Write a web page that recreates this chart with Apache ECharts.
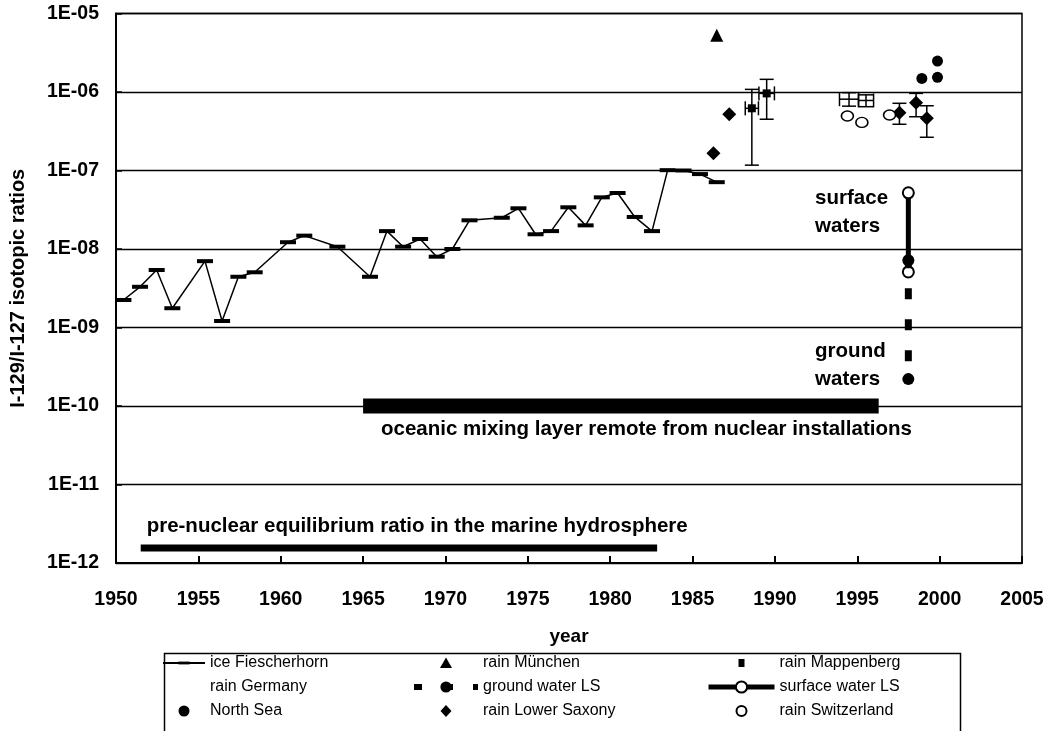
<!DOCTYPE html>
<html>
<head>
<meta charset="utf-8">
<script src="https://cdn.jsdelivr.net/npm/echarts@6/dist/echarts.min.js"></script>
<style>
html,body{margin:0;padding:0;background:#fff;}
#chart{width:1051px;height:731px;}
</style>
</head>
<body>
<div id="chart"></div>
<script>
// ---------- data ----------
const iceYears = [1950.45, 1951.46, 1952.47, 1953.42, 1955.4, 1956.44, 1957.43, 1958.42, 1960.44, 1961.43, 1963.44, 1965.42, 1966.45, 1967.43, 1968.46, 1969.47, 1970.42, 1971.46, 1973.42, 1974.43, 1975.47, 1976.41, 1977.46, 1978.51, 1979.49, 1980.45, 1981.49, 1982.54, 1983.49, 1984.45, 1985.45, 1986.47];
const iceValues = [2.24e-9, 3.3e-9, 5.4e-9, 1.76e-9, 7.0e-9, 1.21e-9, 4.43e-9, 5.05e-9, 1.22e-8, 1.48e-8, 1.07e-8, 4.43e-9, 1.69e-8, 1.07e-8, 1.34e-8, 7.98e-9, 1.0e-8, 2.32e-8, 2.5e-8, 3.3e-8, 1.54e-8, 1.69e-8, 3.4e-8, 2.0e-8, 4.55e-8, 5.17e-8, 2.56e-8, 1.69e-8, 1.01e-7, 1.0e-7, 9.0e-8, 7.1e-8];

const munichYears = [1986.47];
const munichValues = [5.3e-6];

// rain Mappenberg: value with x and y error ranges
const mappYears = [1988.6, 1989.5];
const mappValues = [6.2e-7, 9.6e-7];
const mappXLow = [1988.2, 1989.03];
const mappXHigh = [1989.0, 1989.97];
const mappYLow = [1.17e-7, 4.5e-7];
const mappYHigh = [1.08e-6, 1.45e-6];

// rain Germany: only error bars visible
const gerYears = [1994.5, 1995.53];
const gerValues = [8.1e-7, 7.8e-7];
const gerXLow = [1993.92, 1995.07];
const gerXHigh = [1995.08, 1995.99];
const gerYLow = [6.6e-7, 6.5e-7];
const gerYHigh = [9.8e-7, 9.2e-7];

// rain Lower Saxony
const lsxYears = [1986.27, 1987.23, 1997.56, 1998.57, 1999.22];
const lsxValues = [1.66e-7, 5.2e-7, 5.45e-7, 7.31e-7, 4.62e-7];
const lsxYLow = [null, null, 3.88e-7, 4.84e-7, 2.65e-7];
const lsxYHigh = [null, null, 7.18e-7, 9.6e-7, 6.68e-7];

const swissYears = [1994.4, 1995.28, 1996.96];
const swissValues = [4.94e-7, 4.1e-7, 5.1e-7];

const northSeaYears = [1998.92, 1999.87, 1999.87];
const northSeaValues = [1.49e-6, 1.54e-6, 2.48e-6];

const groundYears = [1998.1, 1998.1];
const groundValues = [7.2e-9, 2.2e-10];

const surfaceYears = [1998.1, 1998.1];
const surfaceValues = [5.2e-8, 5.1e-9];

// reference ranges drawn as bars
const mixingYears = [1965.0, 1996.3];
const mixingValues = [1e-10, 1e-10];
const preNuclearYears = [1951.5, 1982.85];
const preNuclearValues = [1.55e-12, 1.55e-12];

// annotations (anchor in data units)
const noteTexts = ['pre-nuclear equilibrium ratio in the marine hydrosphere', 'oceanic mixing layer remote from nuclear installations', 'surface\nwaters', 'ground\nwaters'];
const noteYears = [1951.86, 1982.2, 1992.44, 1992.44];
const noteValues = [2.9e-12, 4.98e-11, 2.92e-8, 3.28e-10];
const noteAlign = ['left', 'center', 'left', 'left'];

const xTickLabels = ['1950','1955','1960','1965','1970','1975','1980','1985','1990','1995','2000','2005'];
const yTickLabels = ['1E-12','1E-11','1E-10','1E-09','1E-08','1E-07','1E-06','1E-05'];

// ---------- helpers ----------
const zip = (a, b) => a.map((v, i) => [v, b[i]]);
const FONT = "'Liberation Sans', Arial, sans-serif";

function errRender(params, api) {
  const x = api.value(0), y = api.value(1);
  const xlo = api.value(2), xhi = api.value(3), ylo = api.value(4), yhi = api.value(5);
  const cap = 7;
  const st = { stroke: '#000', lineWidth: 1.5 };
  const children = [];
  if (ylo > 0 && yhi > 0) {
    const a = api.coord([x, ylo]), b = api.coord([x, yhi]);
    children.push({ type: 'line', shape: { x1: a[0], y1: a[1], x2: b[0], y2: b[1] }, style: st });
    children.push({ type: 'line', shape: { x1: a[0] - cap, y1: a[1], x2: a[0] + cap, y2: a[1] }, style: st });
    children.push({ type: 'line', shape: { x1: b[0] - cap, y1: b[1], x2: b[0] + cap, y2: b[1] }, style: st });
  }
  if (xlo > 0 && xhi > 0) {
    const a = api.coord([xlo, y]), b = api.coord([xhi, y]);
    children.push({ type: 'line', shape: { x1: a[0], y1: a[1], x2: b[0], y2: b[1] }, style: st });
    children.push({ type: 'line', shape: { x1: a[0], y1: a[1] - cap, x2: a[0], y2: a[1] + cap }, style: st });
    children.push({ type: 'line', shape: { x1: b[0], y1: b[1] - cap, x2: b[0], y2: b[1] + cap }, style: st });
  }
  return { type: 'group', children };
}

const mappErr = mappYears.map((x, i) => [x, mappValues[i], mappXLow[i], mappXHigh[i], mappYLow[i], mappYHigh[i]]);
const gerErr = gerYears.map((x, i) => [x, gerValues[i], gerXLow[i], gerXHigh[i], gerYLow[i], gerYHigh[i]]);
const lsxErr = lsxYears.map((x, i) => [x, lsxValues[i], 0, 0, lsxYLow[i] || 0, lsxYHigh[i] || 0]);

// legend icon paths: a shape centred in a box of the legend item's size
const IH = 14;
function boxed(w, inner) { return 'path://M0,0 M' + w + ',' + IH + ' ' + inner(w / 2, IH / 2); }
const triPath = (cx, cy) => `M${cx},${cy - 5.5} L${cx + 6},${cy + 5} L${cx - 6},${cy + 5} Z`;
const diaPath = (cx, cy) => `M${cx},${cy - 6} L${cx + 5.5},${cy} L${cx},${cy + 6} L${cx - 5.5},${cy} Z`;
const sqPath = (cx, cy) => `M${cx - 3},${cy - 4} L${cx + 3},${cy - 4} L${cx + 3},${cy + 4} L${cx - 3},${cy + 4} Z`;
const circPath = (r) => (cx, cy) => `M${cx + r},${cy} A${r},${r} 0 1,1 ${cx - r},${cy} A${r},${r} 0 1,1 ${cx + r},${cy} Z`;
const dashSym = 'path://M0,0 M16,16 M0,6 L16,6 L16,10 L0,10 Z';

const chart = echarts.init(document.getElementById('chart'), null, { renderer: 'canvas' });

const legendText = { fontFamily: FONT, fontSize: 16, color: '#000' };
const legendCommon = { orient: 'vertical', top: 655, itemHeight: IH, itemGap: 8, textStyle: legendText, selectedMode: false, padding: 0 };
const W1 = 42, W2 = 64, W3 = 66;

const option = {
  animation: false,
  backgroundColor: '#fff',
  grid: { left: 116, right: 29, top: 13.5, bottom: 168, show: true, borderColor: '#000', borderWidth: 1.5, backgroundColor: 'transparent' },
  xAxis: {
    type: 'value', min: 1950, max: 2005, interval: 5,
    name: 'year', nameLocation: 'middle', nameGap: 64,
    nameTextStyle: { fontFamily: FONT, fontWeight: 'bold', fontSize: 19, color: '#000' },
    axisLine: { show: true, lineStyle: { color: '#000', width: 2 } },
    axisTick: { show: true, inside: true, length: 7, lineStyle: { color: '#000', width: 2 } },
    axisLabel: { margin: 27, fontFamily: FONT, fontWeight: 'bold', fontSize: 19.5, color: '#000',
      formatter: (v) => xTickLabels[Math.round((v - 1950) / 5)] },
    splitLine: { show: false }
  },
  yAxis: {
    type: 'log', logBase: 10, min: 1e-12, max: 1e-5,
    name: 'I-129/I-127 isotopic ratios', nameLocation: 'middle', nameRotate: 90, nameGap: 88,
    nameTextStyle: { fontFamily: FONT, fontWeight: 'bold', fontSize: 20, color: '#000' },
    axisLine: { show: true, lineStyle: { color: '#000', width: 2 } },
    axisTick: { show: true, inside: true, length: 6, lineStyle: { color: '#000', width: 1.5 } },
    axisLabel: { margin: 17, fontFamily: FONT, fontWeight: 'bold', fontSize: 19.5, color: '#000',
      formatter: (v) => yTickLabels[Math.round(Math.log10(v)) + 12] },
    splitLine: { show: true, lineStyle: { color: '#000', width: 1.3 } }
  },
  legend: [
    Object.assign({}, legendCommon, { left: 162, itemWidth: W1, data: [
      'ice Fiescherhorn',
      { name: 'rain Germany', icon: 'rect', itemStyle: { color: 'rgba(0,0,0,0)', borderWidth: 0 } },
      { name: 'North Sea', icon: boxed(W1, circPath(5.5)) }
    ] }),
    Object.assign({}, legendCommon, { left: 411, itemWidth: W2, data: [
      { name: 'rain München', icon: boxed(W2, triPath) },
      { name: 'ground water LS', lineStyle: { width: 6 } },
      { name: 'rain Lower Saxony', icon: boxed(W2, diaPath) }
    ] }),
    Object.assign({}, legendCommon, { left: 706, itemWidth: W3, data: [
      { name: 'rain Mappenberg', icon: boxed(W3, sqPath) },
      { name: 'surface water LS', lineStyle: { width: 5 } },
      { name: 'rain Switzerland', icon: boxed(W3, circPath(5)) }
    ] })
  ],
  graphic: [
    { type: 'rect', left: 162, top: 651, shape: { width: 796, height: 100 }, style: { fill: 'none', stroke: '#000', lineWidth: 1.5 }, silent: true }
  ],
  series: [
    { name: 'pre-nuclear', type: 'line', data: zip(preNuclearYears, preNuclearValues), symbol: 'none', lineStyle: { color: '#000', width: 7, cap: 'butt' }, silent: true, z: 1 },
    { name: 'mixing', type: 'line', data: zip(mixingYears, mixingValues), symbol: 'none', lineStyle: { color: '#000', width: 15, cap: 'butt' }, silent: true, z: 1 },
    { name: 'ice Fiescherhorn', type: 'line', data: zip(iceYears, iceValues), symbol: dashSym, symbolSize: 16, showAllSymbol: true,
      itemStyle: { color: '#000', opacity: 1 }, lineStyle: { color: '#000', width: 1.5 }, z: 3 },
    { name: 'rain Germany', type: 'custom', renderItem: errRender, data: gerErr, encode: { x: 0, y: 1 }, itemStyle: { color: '#000' }, z: 3 },
    { name: 'North Sea', type: 'scatter', data: zip(northSeaYears, northSeaValues), symbol: 'circle', symbolSize: 11, itemStyle: { color: '#000', opacity: 1 }, z: 4 },
    { name: 'rain München', type: 'scatter', data: zip(munichYears, munichValues), symbol: 'triangle', symbolSize: 13, itemStyle: { color: '#000', opacity: 1 }, z: 4 },
    { name: 'surface water LS', type: 'line', data: zip(surfaceYears, surfaceValues), symbol: 'circle', symbolSize: 11, showAllSymbol: true,
      itemStyle: { color: '#fff', borderColor: '#000', borderWidth: 2, opacity: 1 }, lineStyle: { color: '#000', width: 5 }, z: 3 },
    { name: 'ground water LS', type: 'line', data: zip(groundYears, groundValues), symbol: 'circle', symbolSize: 12, showAllSymbol: true,
      itemStyle: { color: '#000', opacity: 1 }, lineStyle: { color: '#000', width: 7, type: [11, 20], dashOffset: 3, cap: 'butt' }, z: 4 },
    { name: 'rain Lower Saxony err', type: 'custom', renderItem: errRender, data: lsxErr, encode: { x: 0, y: 1 }, z: 3 },
    { name: 'rain Lower Saxony', type: 'scatter', data: zip(lsxYears, lsxValues), symbol: 'diamond', symbolSize: 14, itemStyle: { color: '#000', opacity: 1 }, z: 4 },
    { name: 'rain Mappenberg err', type: 'custom', renderItem: errRender, data: mappErr, encode: { x: 0, y: 1 }, z: 3 },
    { name: 'rain Mappenberg', type: 'scatter', data: zip(mappYears, mappValues), symbol: 'rect', symbolSize: 8, itemStyle: { color: '#000', opacity: 1 }, z: 4 },
    { name: 'rain Switzerland', type: 'scatter', data: zip(swissYears, swissValues), symbol: 'circle', symbolSize: [12, 10],
      itemStyle: { color: '#fff', borderColor: '#000', borderWidth: 1.5, opacity: 1 }, z: 4 },
    { name: 'notes', type: 'scatter', symbol: 'circle', symbolSize: 1, silent: true, z: 5,
      itemStyle: { color: 'rgba(0,0,0,0)', opacity: 1 },
      data: noteTexts.map((t, i) => ({ value: [noteYears[i], noteValues[i]], label: { align: noteAlign[i] } })),
      label: { show: true, position: 'inside', verticalAlign: 'middle', fontFamily: FONT, fontWeight: 'bold', fontSize: 20.5, lineHeight: 28, color: '#000',
        formatter: (p) => noteTexts[p.dataIndex] } }
  ]
};
chart.setOption(option);
</script>
</body>
</html>
